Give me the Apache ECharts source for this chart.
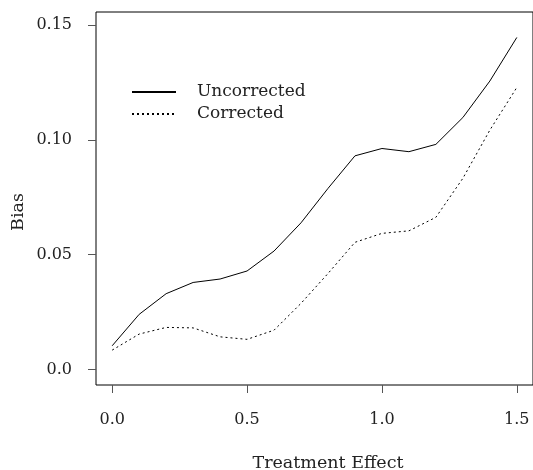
<!DOCTYPE html>
<html>
<head>
<meta charset="utf-8">
<script src="https://cdn.jsdelivr.net/npm/echarts@6/dist/echarts.min.js"></script>
<style>
  html, body { margin: 0; padding: 0; background: #fff; }
  #chart { width: 533px; height: 470px; }
</style>
</head>
<body>
<div id="chart"></div>
<script>
const effects = [0, 0.1, 0.2, 0.3, 0.4, 0.5, 0.6, 0.7, 0.8, 0.9, 1.0, 1.1, 1.2, 1.3, 1.4, 1.5];
const uncorrected = [0.0103, 0.0240, 0.0330, 0.0379, 0.0394, 0.0429, 0.0516, 0.0639, 0.0789, 0.0931, 0.0963, 0.0949, 0.0981, 0.1098, 0.1257, 0.1447];
const corrected = [0.0084, 0.0154, 0.0183, 0.0181, 0.0142, 0.0131, 0.0171, 0.0288, 0.0418, 0.0554, 0.0593, 0.0604, 0.0663, 0.0833, 0.1043, 0.1229];

const xTickValues = [0, 0.5, 1, 1.5];
const xTickLabels = ["0.0", "0.5", "1.0", "1.5"];
const yTickValues = [0, 0.05, 0.1, 0.15];
const yTickLabels = ["0.0", "0.05", "0.10", "0.15"];

const serif = "DejaVu Serif";

function labelFor(values, labels) {
  return (v) => {
    const i = values.findIndex((t) => Math.abs(t - v) < 1e-9);
    return i >= 0 ? labels[i] : "";
  };
}

const chart = echarts.init(document.getElementById("chart"));
chart.setOption({
  backgroundColor: "#ffffff",
  animation: false,
  grid: {
    left: 96, top: 12, width: 439, height: 373,
    show: true, borderColor: "#000", borderWidth: 1, backgroundColor: "transparent",
  },
  legend: {
    orient: "vertical",
    left: 126,
    top: 76,
    itemWidth: 44,
    itemHeight: 14,
    itemGap: 0,
    itemStyle: { opacity: 0 },
    textStyle: { fontFamily: serif, fontSize: 17, color: "#222", lineHeight: 22, padding: [0, 0, 0, 16] },
    data: ["Uncorrected", "Corrected"],
  },
  xAxis: {
    type: "value",
    min: -0.06,
    max: 1.56,
    axisLine: { show: false, onZero: false },
    splitLine: { show: false },
    axisTick: {
      show: true, length: 8, customValues: xTickValues,
      lineStyle: { color: "#555", width: 1 },
    },
    axisLabel: {
      customValues: xTickValues,
      formatter: labelFor(xTickValues, xTickLabels),
      margin: 27, fontFamily: serif, fontSize: 16, color: "#222",
    },
  },
  yAxis: {
    type: "value",
    min: -0.0068,
    max: 0.1558,
    axisLine: { show: false, onZero: false },
    splitLine: { show: false },
    axisTick: {
      show: true, length: 8, customValues: yTickValues,
      lineStyle: { color: "#555", width: 1 },
    },
    axisLabel: {
      customValues: yTickValues,
      formatter: labelFor(yTickValues, yTickLabels),
      margin: 24, fontFamily: serif, fontSize: 16, color: "#222",
    },
  },
  graphic: [
    {
      type: "text", x: 328, y: 463,
      style: { text: "Treatment Effect", fontFamily: serif, fontSize: 17.5, fill: "#222", align: "center", verticalAlign: "middle" },
    },
    {
      type: "text", x: 18, y: 212, rotation: Math.PI / 2,
      style: { text: "Bias", fontFamily: serif, fontSize: 17.5, fill: "#222", align: "center", verticalAlign: "middle" },
    },
  ],
  series: [
    {
      name: "Uncorrected",
      type: "line",
      symbol: "none",
      data: effects.map((x, i) => [x, uncorrected[i]]),
      lineStyle: { color: "#000", width: 1 },
      itemStyle: { color: "#000" },
    },
    {
      name: "Corrected",
      type: "line",
      symbol: "none",
      data: effects.map((x, i) => [x, corrected[i]]),
      lineStyle: { color: "#000", width: 1, type: [2, 3] },
      itemStyle: { color: "#000" },
    },
  ],
});
</script>
</body>
</html>
